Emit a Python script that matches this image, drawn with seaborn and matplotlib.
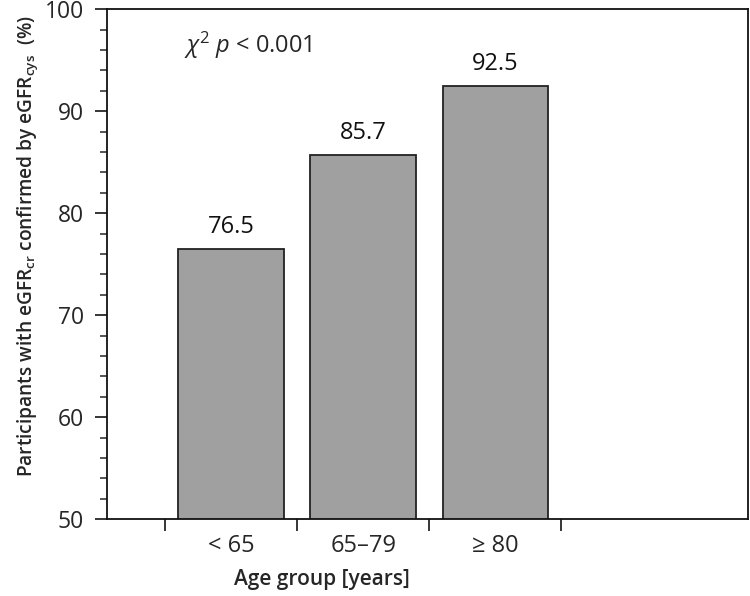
import pandas as pd
import matplotlib
matplotlib.use('Agg')
import matplotlib.pyplot as plt
from matplotlib.ticker import MultipleLocator, FixedLocator, NullFormatter
import seaborn as sns

# data
age_groups = ['< 65', '65–79', '≥ 80']
confirmed_pct = [76.5, 85.7, 92.5]

df = pd.DataFrame({'Age group': age_groups, 'Percent': confirmed_pct})

sns.set_style('ticks')
plt.rcParams['font.family'] = ['Open Sans', 'DejaVu Sans']
plt.rcParams['mathtext.fontset'] = 'custom'
plt.rcParams['mathtext.rm'] = 'Open Sans'
plt.rcParams['mathtext.it'] = 'Open Sans:italic'
plt.rcParams['mathtext.bf'] = 'Open Sans:bold'

fig = plt.figure(figsize=(7.5, 5.96), dpi=100)
ax = fig.add_axes([0.1427, 0.129, 0.8543, 0.8557])

sns.barplot(data=df, x='Age group', y='Percent', color='#a0a0a0', saturation=1,
            edgecolor='#222222', linewidth=1.3, width=0.8, ax=ax)

ax.bar_label(ax.containers[0], labels=[f'{v:.1f}' for v in confirmed_pct],
             padding=7, fontsize=17, color='#111111')

ax.set_ylim(50, 100)
ax.set_xlim(-0.94, 3.91)
ax.yaxis.set_major_locator(MultipleLocator(10))
ax.yaxis.set_minor_locator(MultipleLocator(2))
ax.tick_params(axis='y', which='major', length=8.6, width=1.3, labelsize=16.5, pad=8)
ax.tick_params(axis='y', which='minor', length=5, width=1.1)

# ticks between categories, labels under bars
ax.xaxis.set_major_locator(FixedLocator([-0.5, 0.5, 1.5, 2.5]))
ax.xaxis.set_major_formatter(NullFormatter())
ax.xaxis.set_minor_locator(FixedLocator([0, 1, 2]))
ax.set_xticklabels(age_groups, minor=True)
ax.tick_params(axis='x', which='major', length=8.6, width=1.3)
ax.tick_params(axis='x', which='minor', length=0, labelsize=17, pad=11)

for s in ax.spines.values():
    s.set_linewidth(1.3)
    s.set_color('#111111')

ax.set_xlabel('Age group [years]', fontsize=15, fontweight='semibold')
ax.xaxis.set_label_coords(0.336, -0.097)
ax.set_ylabel(r'Participants with eGFR$_{\mathregular{cr}}$ confirmed by eGFR$_{\mathregular{cys}}$  (%)',
              fontsize=13.8, fontweight='semibold')
ax.yaxis.set_label_coords(-0.104, 0.535)

ax.text(0.12, 0.928, r'$\chi^{2}$ $\mathit{p}$ < 0.001', transform=ax.transAxes,
        fontsize=17, ha='left', va='center')

fig.savefig('out.png', dpi=100)
